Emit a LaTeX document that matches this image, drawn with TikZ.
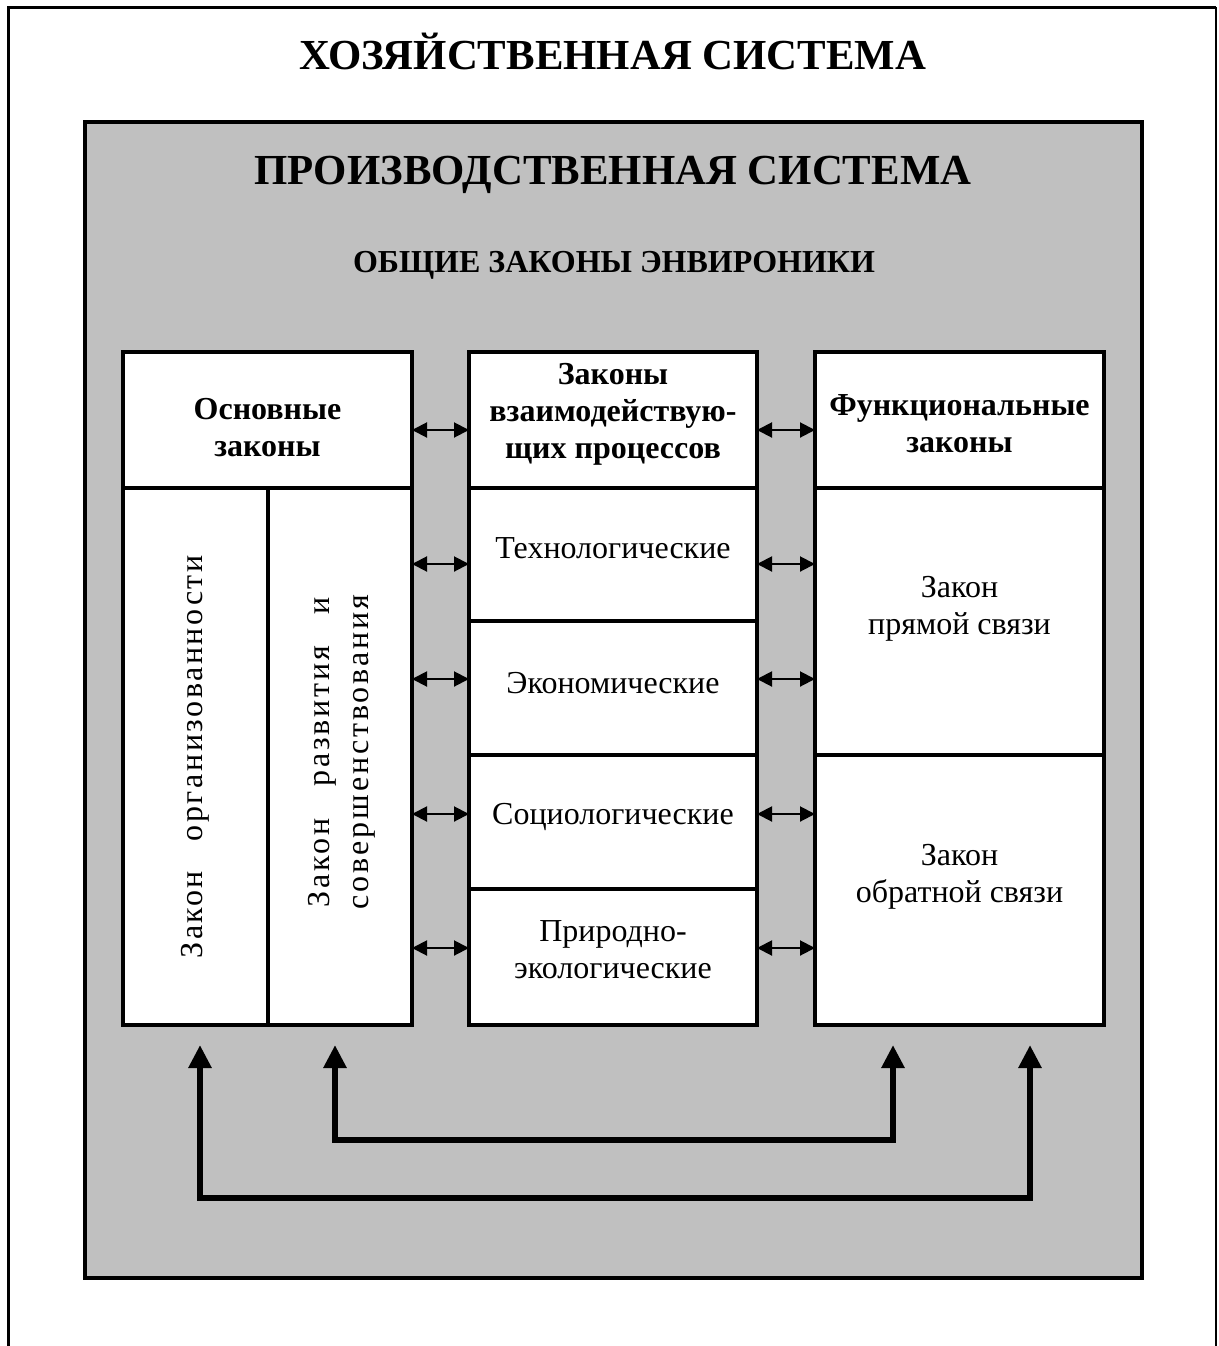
\documentclass[tikz,border=0pt]{standalone}
\usepackage{fontspec}
\setmainfont{Liberation Serif}
\usetikzlibrary{arrows.meta}
\definecolor{panelgray}{HTML}{C0C0C0}
\begin{document}
\begin{tikzpicture}[x=1pt,y=-1pt,
  cell/.style={draw, fill=white, line width=3.5pt, inner sep=0pt, outer sep=0pt},
  txt/.style={font=\fontsize{32}{37}\selectfont, align=center, inner sep=0pt},
  hdr/.style={font=\fontsize{32}{37}\selectfont\bfseries, align=center, inner sep=0pt},
  biarrow/.style={line width=2pt, {Triangle[length=15pt,width=15pt]}-{Triangle[length=15pt,width=15pt]}},
  feedback/.style={line width=6pt, {Triangle[length=23pt,width=22pt]}-{Triangle[length=23pt,width=22pt]}},
]
\useasboundingbox (0,0) rectangle (1218,1346);
\fill[white] (0,0) rectangle (1218,1346);
% outer frame (open at the bottom)
\draw[line width=3pt] (8.5,1346) -- (8.5,7.5) -- (1216,7.5);
\draw[line width=2pt] (1216,7.5) -- (1216,1346);
\node[font=\fontsize{42.8}{48}\selectfont\bfseries, anchor=base, inner sep=0pt] (title) at (613,70) {ХОЗЯЙСТВЕННАЯ СИСТЕМА};
% production system panel
\node[draw, fill=panelgray, line width=4pt, inner sep=0pt, minimum width=1057pt, minimum height=1156pt] (panel) at (613.5,700) {};
\node[font=\fontsize{42.8}{48}\selectfont\bfseries, anchor=base, inner sep=0pt] (prod) at (613,184) {ПРОИЗВОДСТВЕННАЯ СИСТЕМА};
\node[font=\fontsize{32}{36}\selectfont\bfseries, anchor=base, inner sep=0pt] (general) at (614,272) {ОБЩИЕ ЗАКОНЫ ЭНВИРОНИКИ};
% left column
\node[cell, minimum width=289pt, minimum height=136pt] (Lh) at (267.5,420) {};
\node[cell, minimum width=145pt, minimum height=537pt] (L1) at (195.5,756.5) {};
\node[cell, minimum width=144pt, minimum height=537pt] (L2) at (340,756.5) {};
% middle column
\node[cell, minimum width=288pt, minimum height=136pt] (Mh) at (613,420) {};
\node[cell, minimum width=288pt, minimum height=133pt] (M1) at (613,554.5) {};
\node[cell, minimum width=288pt, minimum height=134pt] (M2) at (613,688) {};
\node[cell, minimum width=288pt, minimum height=134pt] (M3) at (613,822) {};
\node[cell, minimum width=288pt, minimum height=136pt] (M4) at (613,957) {};
% right column
\node[cell, minimum width=289pt, minimum height=136pt] (Rh) at (959.5,420) {};
\node[cell, minimum width=289pt, minimum height=267pt] (R1) at (959.5,621.5) {};
\node[cell, minimum width=289pt, minimum height=270pt] (R2) at (959.5,890) {};
% texts
\node[hdr] (tLh) at (267.5,428) {Основные\\законы};
\node[hdr] (tMh) at (613,414) {Законы\\взаимодействую-\\щих процессов};
\node[hdr] (tRh) at (959.5,424) {Функциональные\\законы};
\node[txt, rotate=90] (tL1) at (195,757) {\addfontfeature{LetterSpace=8}\makebox[403pt][s]{Закон организованности}};
\node[txt, rotate=90, font=\fontsize{32}{39}\selectfont] (tL2) at (342,752) {\addfontfeature{LetterSpace=9}\makebox[310pt][s]{Закон развития и}\\\addfontfeature{LetterSpace=9}\makebox[310pt][c]{совершенствования}};
\node[txt] (tM1) at (613,548) {Технологические};
\node[txt] (tM2) at (613,683) {Экономические};
\node[txt] (tM3) at (613,817) {Социологические};
\node[txt] (tM4) at (613,950) {Природно-\\экологические};
\node[txt] (tR1) at (959.5,609) {Закон\\прямой связи};
\node[txt] (tR2) at (959.5,877) {Закон\\обратной связи};
% horizontal double arrows
\coordinate (r1) at (0,430);
\coordinate (r2) at (0,564);
\coordinate (r3) at (0,679);
\coordinate (r4) at (0,814);
\coordinate (r5) at (0,948);
\draw[biarrow] (Lh.east |- r1) -- (Mh.west |- r1);
\draw[biarrow] (Mh.east |- r1) -- (Rh.west |- r1);
\draw[biarrow] (L2.east |- r2) -- (M1.west |- r2);
\draw[biarrow] (M1.east |- r2) -- (R1.west |- r2);
\draw[biarrow] (L2.east |- r3) -- (M2.west |- r3);
\draw[biarrow] (M2.east |- r3) -- (R1.west |- r3);
\draw[biarrow] (L2.east |- r4) -- (M3.west |- r4);
\draw[biarrow] (M3.east |- r4) -- (R2.west |- r4);
\draw[biarrow] (L2.east |- r5) -- (M4.west |- r5);
\draw[biarrow] (M4.east |- r5) -- (R2.west |- r5);
% feedback brackets
\coordinate (a1) at (200,1045);
\coordinate (a2) at (1030,1045);
\coordinate (abar) at (615,1198);
\coordinate (b1) at (335,1045);
\coordinate (b2) at (893,1045);
\coordinate (bbar) at (615,1140);
\draw[feedback] (a1) |- (abar) -| (a2);
\draw[feedback] (b1) |- (bbar) -| (b2);
\end{tikzpicture}
\end{document}
